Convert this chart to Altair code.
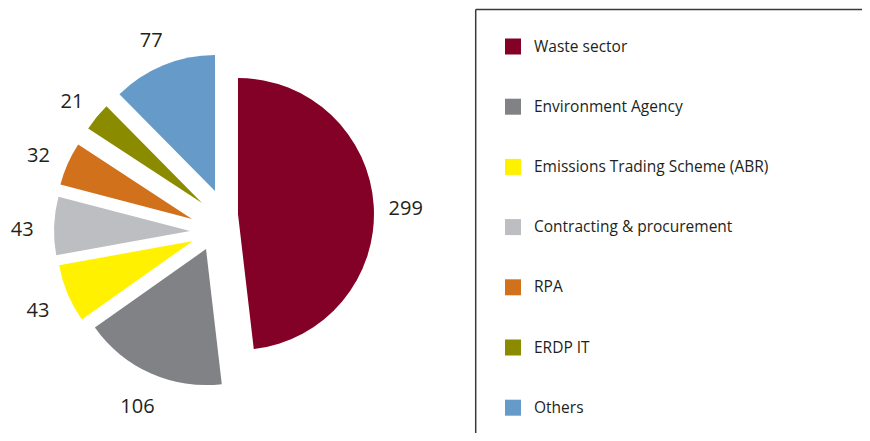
import altair as alt
import pandas as pd

# ---- data ----
categories = ["Waste sector", "Environment Agency", "Emissions Trading Scheme (ABR)",
              "Contracting & procurement", "RPA", "ERDP IT", "Others"]
values = [299, 106, 43, 43, 32, 21, 77]

# ---- style ----
colors = ["#830026", "#818286", "#fff100", "#bdbec2", "#d2711c", "#8b8b00", "#669bc9"]
explode = [15.6, 28.9, 33.9, 32.7, 30.8, 30.2, 34.5]   # radial slice offsets (px)
skew = [-10.1, 5.7, -3.1, -7.3, -7.0, 3.8, 5.5]       # clockwise slice offsets (px)
CX, CY = 215, 217          # pie centre inside the view (px)
R = 136                    # pie radius (px)
LABEL_R = 168              # label distance from slice apex
LABEL_DY = 5               # small downward nudge of the value labels
FONT = "Open Sans"
TEXT = "#231f20"
BORDER = "#3a3a3a"

df = pd.DataFrame({
    "category": categories,
    "value": values,
    "idx": list(range(len(categories))),
    "explode": explode,
    "skew": skew,
})

base = alt.Chart(df).transform_window(
    cum="sum(value)", sort=[alt.SortField("idx")], frame=[None, 0]
).transform_joinaggregate(
    total="sum(value)"
).transform_calculate(
    a0="(datum.cum - datum.value) / datum.total * 2 * PI",
    a1="datum.cum / datum.total * 2 * PI",
).transform_calculate(
    mid="(datum.a0 + datum.a1) / 2"
).transform_calculate(
    px=f"{CX} + datum.explode * sin(datum.mid) + datum.skew * cos(datum.mid)",
    py=f"{CY} - datum.explode * cos(datum.mid) + datum.skew * sin(datum.mid)",
).transform_calculate(
    lx=f"datum.px + {LABEL_R} * sin(datum.mid)",
    ly=f"datum.py - {LABEL_R} * cos(datum.mid) + {LABEL_DY}",
)

arcs = base.mark_arc(outerRadius=R).encode(
    theta=alt.Theta("a0:Q", scale=None),
    theta2="a1:Q",
    x=alt.X("px:Q", scale=None),
    y=alt.Y("py:Q", scale=None),
    color=alt.Color(
        "category:N",
        scale=alt.Scale(domain=categories, range=colors),
        sort=categories,
        legend=alt.Legend(
            title=None, orient="none", legendX=497, legendY=30.5,
            symbolType="square", symbolSize=256, symbolStrokeWidth=0,
            labelFont=FONT, labelFontSize=15.5, labelColor=TEXT,
            labelOffset=13, rowPadding=43.2, labelLimit=400,
        ),
    ),
)

labels = base.mark_text(font=FONT, fontSize=20, color=TEXT,
                        align="center", baseline="middle").encode(
    x=alt.X("lx:Q", scale=None),
    y=alt.Y("ly:Q", scale=None),
    text=alt.Text("value:Q"),
)

frame = alt.Data(values=[{"k": 1}])
top_rule = alt.Chart(frame).mark_rule(color=BORDER, strokeWidth=1.5).encode(
    x=alt.value(467.7), x2=alt.value(854), y=alt.value(1.5),
)
left_rule = alt.Chart(frame).mark_rule(color=BORDER, strokeWidth=1.5).encode(
    x=alt.value(467.7), y=alt.value(1.5), y2=alt.value(425),
)

chart = alt.layer(top_rule, left_rule, arcs, labels).properties(
    width=854, height=425, padding=0,
    autosize=alt.AutoSizeParams(type="none"),
).configure_view(stroke=None)

chart.save("out.html", embed_options={"renderer": "svg", "actions": False})
